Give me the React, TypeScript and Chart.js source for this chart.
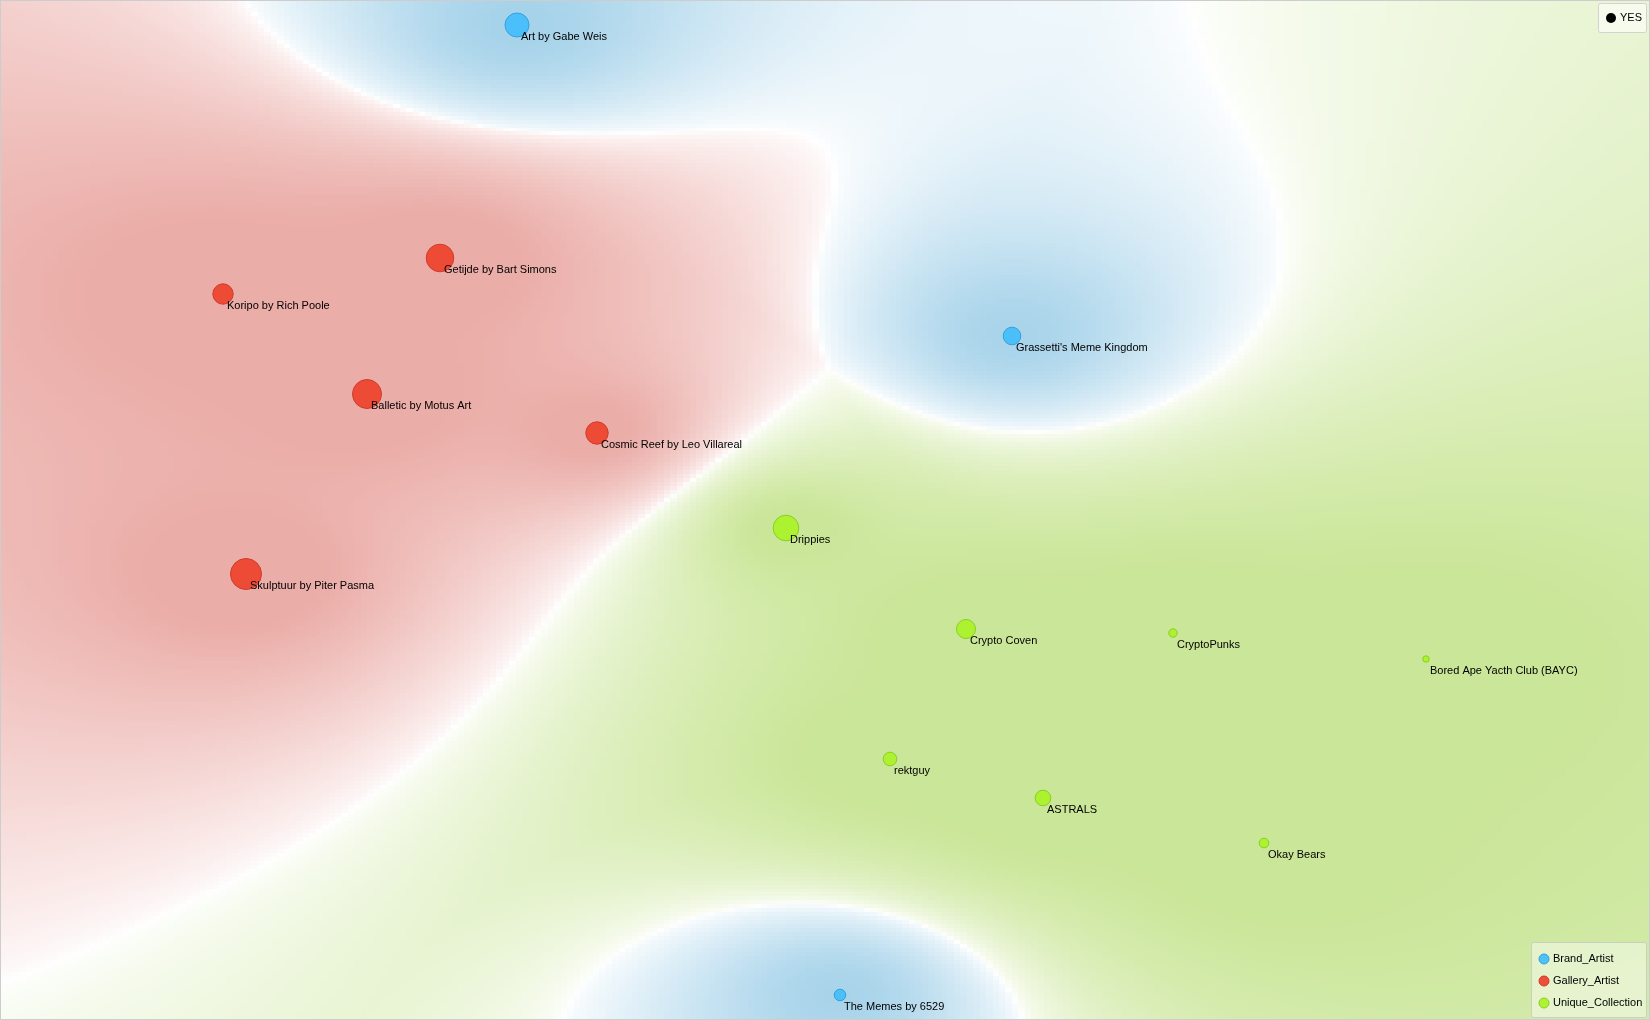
import React, { useEffect, useRef } from "react";
import { Chart, registerables } from "chart.js";

Chart.register(...registerables);

// ---- data ----
const classNames = ["Brand_Artist", "Gallery_Artist", "Unique_Collection"];
const pointNames = [
  "Art by Gabe Weis",
  "Grassetti's Meme Kingdom",
  "The Memes by 6529",
  "Getijde by Bart Simons",
  "Koripo by Rich Poole",
  "Balletic by Motus Art",
  "Cosmic Reef by Leo Villareal",
  "Skulptuur by Piter Pasma",
  "Drippies",
  "Crypto Coven",
  "CryptoPunks",
  "Bored Ape Yacth Club (BAYC)",
  "rektguy",
  "ASTRALS",
  "Okay Bears",
];
const pointClass = [0, 0, 0, 1, 1, 1, 1, 1, 2, 2, 2, 2, 2, 2, 2];
const xValues = [5.17, 10.12, 8.4, 4.4, 2.23, 3.67, 5.97, 2.46, 7.86, 9.66, 11.73, 14.26, 8.9, 10.43, 12.64];
const yValues = [9.95, 6.84, 0.25, 7.62, 7.26, 6.26, 5.87, 4.46, 4.92, 3.91, 3.87, 3.61, 2.61, 2.22, 1.77];
const sizeValues = [12.5, 9.3, 6.3, 14.3, 10.7, 15, 11.7, 16, 13.3, 10, 4.7, 3.7, 7.3, 8.3, 5.3];
const sizeLegendLabels = ["YES"];

// ---- styles ----
const classFill = ["rgba(70,190,250,0.95)", "rgba(237,70,47,0.95)", "rgba(170,242,43,0.95)"];
const classBorder = ["rgb(55,160,220)", "rgb(205,60,45)", "rgb(140,205,35)"];
const densityRGB = [
  [75, 165, 212],
  [215, 92, 82],
  [150, 205, 50],
];
const densityScale = [0.52, 0.57, 0.56];
const X_MIN = 0, X_MAX = 16.5, Y_MIN = 0, Y_MAX = 10.2;
const GRID = 256;
const FONT = "11px 'Liberation Sans', Arial, sans-serif";

const densityPlugin = {
  id: "density",
  beforeDatasetsDraw(chart: any) {
    const { ctx, chartArea: a, scales } = chart;
    const W = a.right - a.left;
    const H = a.bottom - a.top;
    const pts = xValues.map((x, i) => ({
      x: (scales.x.getPixelForValue(x) - a.left) / W,
      y: (scales.y.getPixelForValue(yValues[i]) - a.top) / H,
      c: pointClass[i],
    }));
    const off = document.createElement("canvas");
    off.width = GRID;
    off.height = GRID;
    const octx = off.getContext("2d")!;
    const img = octx.createImageData(GRID, GRID);
    const p = [0, 0, 0];
    for (let j = 0; j < GRID; j++) {
      const gy = j / (GRID - 1);
      for (let i = 0; i < GRID; i++) {
        const gx = i / (GRID - 1);
        p[0] = p[1] = p[2] = 0;
        let tot = 0;
        for (const q of pts) {
          const dx = gx - q.x, dy = gy - q.y;
          const w = 1 / (dx * dx + dy * dy + 0.0008);
          p[q.c] += w;
          tot += w;
        }
        let m = 0;
        for (let c = 1; c < 3; c++) if (p[c] > p[m]) m = c;
        let s = -1;
        for (let c = 0; c < 3; c++) if (c !== m && (s < 0 || p[c] > p[s])) s = c;
        const diff = (p[m] - p[s]) / tot;
        const alpha = Math.min(0.5, densityScale[m] * Math.pow(diff, 0.6));
        const k = (j * GRID + i) * 4;
        img.data[k] = densityRGB[m][0];
        img.data[k + 1] = densityRGB[m][1];
        img.data[k + 2] = densityRGB[m][2];
        img.data[k + 3] = Math.round(alpha * 255);
      }
    }
    octx.putImageData(img, 0, 0);
    ctx.save();
    ctx.fillStyle = "#ffffff";
    ctx.fillRect(0, 0, chart.width, chart.height);
    ctx.imageSmoothingEnabled = false;
    ctx.drawImage(off, a.left, a.top, W, H);
    ctx.restore();
  },
};

const labelPlugin = {
  id: "labels",
  afterDatasetsDraw(chart: any) {
    const { ctx, scales } = chart;
    ctx.save();
    ctx.font = FONT;
    ctx.fillStyle = "#000";
    ctx.textAlign = "left";
    ctx.textBaseline = "alphabetic";
    pointNames.forEach((name, i) => {
      const px = scales.x.getPixelForValue(xValues[i]);
      const py = scales.y.getPixelForValue(yValues[i]);
      ctx.fillText(name, px + 4, py + 15);
    });
    ctx.restore();
  },
};

const legendPlugin = {
  id: "legends",
  afterDraw(chart: any) {
    const { ctx, width, height } = chart;
    ctx.save();
    ctx.strokeStyle = "rgb(205,205,205)";
    ctx.lineWidth = 1;
    ctx.strokeRect(0.5, 0.5, width - 1, height - 1);

    // size legend (top right)
    ctx.fillStyle = "rgba(255,255,255,0.6)";
    ctx.strokeStyle = "rgb(210,210,210)";
    ctx.beginPath();
    ctx.roundRect(1598.5, 3.5, 48, 29, 2);
    ctx.fill();
    ctx.stroke();
    ctx.fillStyle = "#000";
    ctx.beginPath();
    ctx.arc(1611, 18, 5, 0, Math.PI * 2);
    ctx.fill();
    ctx.font = FONT;
    ctx.textBaseline = "middle";
    ctx.fillText(sizeLegendLabels[0], 1620, 18);

    // class legend (bottom right)
    ctx.fillStyle = "rgba(255,255,255,0.45)";
    ctx.strokeStyle = "rgb(200,208,190)";
    ctx.beginPath();
    ctx.roundRect(1531.5, 942.5, 115, 75, 2);
    ctx.fill();
    ctx.stroke();
    classNames.forEach((name, ci) => {
      const y = 959 + ci * 22;
      ctx.beginPath();
      ctx.arc(1544, y, 5, 0, Math.PI * 2);
      ctx.fillStyle = classFill[ci];
      ctx.fill();
      ctx.strokeStyle = classBorder[ci];
      ctx.stroke();
      ctx.fillStyle = "#000";
      ctx.fillText(name, 1553, y);
    });
    ctx.restore();
  },
};

export default function App() {
  const ref = useRef<HTMLCanvasElement>(null);
  useEffect(() => {
    document.body.style.margin = "0";
    const datasets = classNames.map((cls, ci) => {
      const idx = pointClass.map((c, i) => (c === ci ? i : -1)).filter((i) => i >= 0);
      return {
        label: cls,
        data: idx.map((i) => ({ x: xValues[i], y: yValues[i] })),
        pointRadius: idx.map((i) => sizeValues[i] - 0.5),
        pointHoverRadius: idx.map((i) => sizeValues[i] - 0.5),
        backgroundColor: classFill[ci],
        borderColor: classBorder[ci],
        borderWidth: 1,
      };
    });
    const chart = new Chart(ref.current!, {
      type: "scatter",
      data: { datasets },
      options: {
        responsive: false,
        animation: false,
        events: [],
        layout: { padding: 0, autoPadding: false },
        scales: {
          x: { type: "linear", min: X_MIN, max: X_MAX, display: false },
          y: { type: "linear", min: Y_MIN, max: Y_MAX, display: false },
        },
        plugins: { legend: { display: false }, tooltip: { enabled: false } },
      },
      plugins: [densityPlugin, labelPlugin, legendPlugin],
    } as any);
    return () => chart.destroy();
  }, []);
  return <canvas ref={ref} width={1650} height={1020} style={{ display: "block" }} />;
}
